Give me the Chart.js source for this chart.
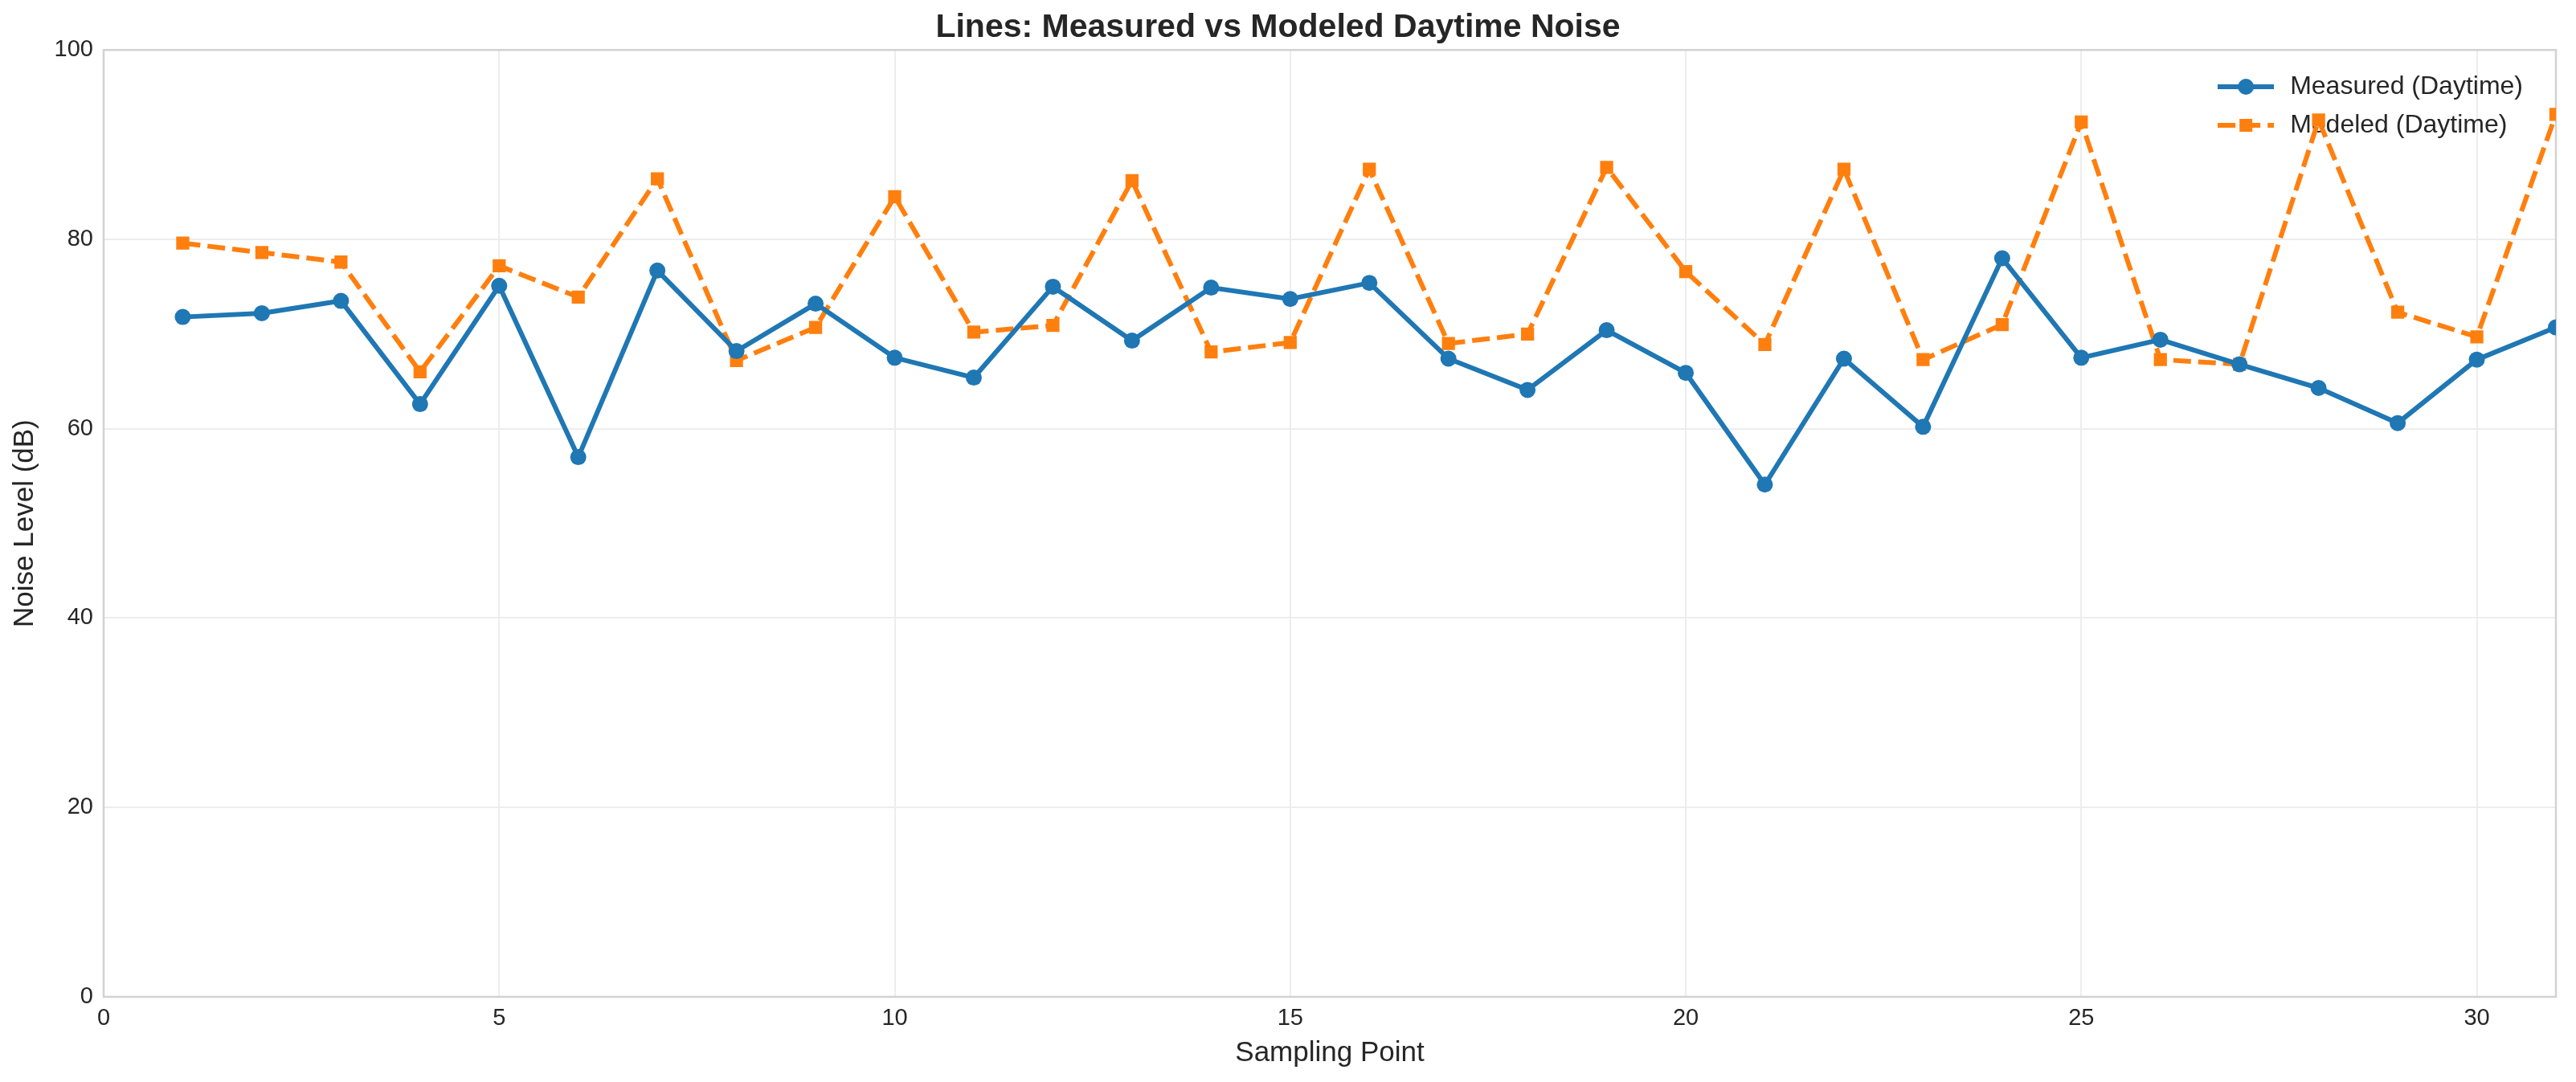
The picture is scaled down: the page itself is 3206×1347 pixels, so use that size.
<!DOCTYPE html>
<html>
<head>
<meta charset="utf-8">
<script src="https://cdn.jsdelivr.net/npm/chart.js@4.4.1/dist/chart.umd.min.js"></script>
<style>
  html, body { margin: 0; padding: 0; background: #ffffff; }
  #wrap { width: 3206px; height: 1347px; }
</style>
</head>
<body>
<div id="wrap"><canvas id="noiseChart" width="3206" height="1347"></canvas></div>
<script>
// data
const samplingPoints = [1, 2, 3, 4, 5, 6, 7, 8, 9, 10, 11, 12, 13, 14, 15, 16, 17, 18, 19, 20, 21, 22, 23, 24, 25, 26, 27, 28, 29, 30, 31];
const measuredDaytime = [71.8, 72.2, 73.5, 62.6, 75.1, 57.0, 76.7, 68.2, 73.2, 67.5, 65.4, 75.0, 69.3, 74.9, 73.7, 75.4, 67.4, 64.1, 70.4, 65.9, 54.1, 67.4, 60.2, 78.0, 67.5, 69.4, 66.8, 64.3, 60.6, 67.3, 70.7];
const modeledDaytime = [79.6, 78.6, 77.6, 66.0, 77.2, 73.9, 86.4, 67.2, 70.7, 84.5, 70.2, 70.9, 86.2, 68.1, 69.1, 87.4, 69.0, 70.0, 87.6, 76.6, 68.9, 87.4, 67.3, 71.0, 92.4, 67.3, 66.8, 92.6, 72.3, 69.7, 93.2];
const seriesLabels = ['Measured (Daytime)', 'Modeled (Daytime)'];

const blue = '#1f77b4';
const orange = '#ff7f0e';
const textColor = '#262626';

Chart.defaults.font.family = "'Liberation Sans', Arial, sans-serif";
Chart.defaults.color = textColor;

const toPoints = (ys) => samplingPoints.map((x, i) => ({ x: x, y: ys[i] }));

// legend handle: short line with the marker in the middle, like matplotlib
const makeHandle = (color, dashed, marker) => {
    const c = document.createElement('canvas');
    c.width = 70;
    c.height = 26;
    const g = c.getContext('2d');
    g.strokeStyle = color;
    g.fillStyle = color;
    g.lineWidth = 6;
    if (dashed) g.setLineDash([22, 9]);
    g.beginPath();
    g.moveTo(0, 13);
    g.lineTo(70, 13);
    g.stroke();
    if (marker === 'circle') {
        g.beginPath();
        g.arc(35, 13, 10, 0, Math.PI * 2);
        g.fill();
    } else {
        g.fillRect(27, 5, 16, 16);
    }
    return c;
};
const handles = [makeHandle(blue, false, 'circle'), makeHandle(orange, true, 'rect')];

// box around the plot area, and move the legend to the top right corner
const framePlugin = {
    id: 'frame',
    beforeDraw(chart) {
        const lg = chart.legend;
        if (lg) {
            const textRight = 3150;
            lg.left = textRight - lg.width;
            lg.right = textRight;
            lg.top = 76;
            lg.bottom = chart.chartArea.bottom;
        }
    },
    beforeDatasetsDraw(chart) {
        const { ctx, chartArea } = chart;
        ctx.save();
        ctx.strokeStyle = '#d2d2d2';
        ctx.lineWidth = 2.5;
        ctx.strokeRect(chartArea.left, chartArea.top, chartArea.right - chartArea.left, chartArea.bottom - chartArea.top);
        ctx.restore();
    }
};

const ctx = document.getElementById('noiseChart').getContext('2d');
new Chart(ctx, {
    type: 'line',
    data: {
        datasets: [
            {
                label: seriesLabels[0],
                data: toPoints(measuredDaytime),
                borderColor: blue,
                backgroundColor: blue,
                borderWidth: 6,
                pointStyle: 'circle',
                pointRadius: 10,
                pointBorderWidth: 0,
                pointBackgroundColor: blue,
                tension: 0,
                fill: false,
                clip: 0
            },
            {
                label: seriesLabels[1],
                data: toPoints(modeledDaytime),
                borderColor: orange,
                backgroundColor: orange,
                borderWidth: 6,
                borderDash: [22, 9],
                pointStyle: 'rect',
                pointRadius: 11.5,
                pointBorderWidth: 0,
                pointBackgroundColor: orange,
                tension: 0,
                fill: false,
                clip: 0
            }
        ]
    },
    options: {
        responsive: false,
        devicePixelRatio: 1,
        animation: false,
        layout: { padding: { left: 0, right: 25, top: 0, bottom: 0 } },
        plugins: {
            title: {
                display: true,
                text: 'Lines: Measured vs Modeled Daytime Noise',
                color: textColor,
                font: { size: 41, weight: 'bold' },
                padding: { top: 10, bottom: 3 }
            },
            legend: {
                position: 'chartArea',
                align: 'start',
                labels: {
                    color: textColor,
                    font: { size: 32 },
                    usePointStyle: true,
                    pointStyleWidth: 78,
                    padding: 16,
                    generateLabels: (chart) => chart.data.datasets.map((ds, i) => ({
                        text: ds.label,
                        pointStyle: handles[i],
                        fillStyle: ds.borderColor,
                        strokeStyle: ds.borderColor,
                        lineWidth: 0,
                        hidden: false,
                        datasetIndex: i,
                        fontColor: textColor
                    }))
                }
            },
            tooltip: { enabled: false }
        },
        scales: {
            x: {
                type: 'linear',
                min: 0,
                max: 31,
                afterFit: (scale) => { scale.height = 106; },
                ticks: {
                    stepSize: 5,
                    includeBounds: false,
                    padding: 10,
                    color: textColor,
                    font: { size: 29 },
                    maxRotation: 0
                },
                grid: { color: '#ededed', lineWidth: 2, drawTicks: false },
                border: { display: false },
                title: {
                    display: true,
                    text: 'Sampling Point',
                    color: textColor,
                    font: { size: 35 },
                    padding: { top: 0, bottom: 15 }
                }
            },
            y: {
                min: 0,
                max: 100,
                afterFit: (scale) => { scale.width = 129; },
                ticks: {
                    stepSize: 20,
                    padding: 13,
                    color: textColor,
                    font: { size: 29 }
                },
                grid: { color: '#ededed', lineWidth: 2, drawTicks: false },
                border: { display: false },
                title: {
                    display: true,
                    text: 'Noise Level (dB)',
                    color: textColor,
                    font: { size: 35 },
                    padding: { top: 10, bottom: 0 }
                }
            }
        }
    },
    plugins: [framePlugin]
});
</script>
</body>
</html>
